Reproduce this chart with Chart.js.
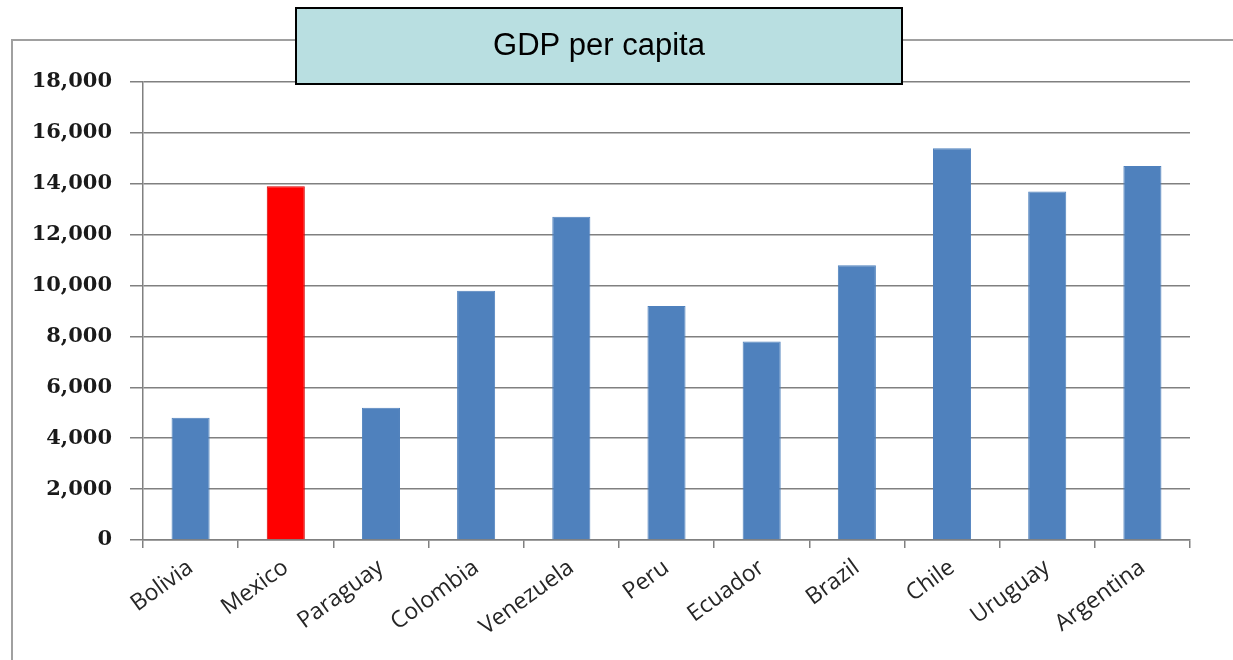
<!DOCTYPE html>
<html>
<head>
<meta charset="utf-8">
<script src="https://cdn.jsdelivr.net/npm/chart.js@4"></script>
<style>
    html, body { margin: 0; padding: 0; background: #fff; }
    #wrap { position: relative; width: 1233px; height: 660px; }
</style>
</head>
<body>
<div id="wrap"><canvas id="gdpChart" width="1233" height="660"></canvas></div>
<script>
const categories = ['Bolivia', 'Mexico', 'Paraguay', 'Colombia', 'Venezuela', 'Peru', 'Ecuador', 'Brazil', 'Chile', 'Uruguay', 'Argentina'];
const gdpValues = [4800, 13900, 5200, 9800, 12700, 9200, 7800, 10800, 15400, 13700, 14700];
const highlighted = 'Mexico';
const chartTitle = 'GDP per capita';
const yMin = 0, yMax = 18000, yStep = 2000;

const barColors = categories.map(c => c === highlighted ? '#ff0000' : '#4f81bd');
const barBorders = categories.map(c => c === highlighted ? '#d40000' : '#4f81bd');

// outer frame + title box (drawn on the canvas)
const decorPlugin = {
    id: 'decor',
    beforeDraw(chart) {
        const ctx = chart.ctx;
        ctx.save();
        ctx.strokeStyle = '#a0a0a0';
        ctx.lineWidth = 2;
        ctx.beginPath();
        ctx.moveTo(12, 660);
        ctx.lineTo(12, 40);
        ctx.lineTo(1233, 40);
        ctx.stroke();
        ctx.restore();
    },
    afterDraw(chart) {
        const ctx = chart.ctx;
        ctx.save();
        ctx.fillStyle = '#b9dfe1';
        ctx.fillRect(296, 8, 606, 76);
        ctx.strokeStyle = '#000';
        ctx.lineWidth = 2;
        ctx.strokeRect(296, 8, 606, 76);
        ctx.fillStyle = '#000';
        ctx.font = '31px "Liberation Sans", Arial, sans-serif';
        ctx.textAlign = 'center';
        ctx.textBaseline = 'middle';
        ctx.fillText(chartTitle, 599, 46);
        ctx.restore();
    }
};

new Chart(document.getElementById('gdpChart').getContext('2d'), {
    type: 'bar',
    data: {
        labels: categories,
        datasets: [{
            data: gdpValues,
            backgroundColor: barColors,
            borderColor: barBorders,
            borderWidth: 1,
            barPercentage: 0.4,
            categoryPercentage: 1
        }]
    },
    options: {
        responsive: false,
        animation: false,
        layout: { padding: { top: 82, right: 43, left: 0, bottom: 0 } },
        plugins: {
            legend: { display: false },
            title: { display: false },
            tooltip: { enabled: false }
        },
        scales: {
            x: {
                offset: true,
                grid: { offset: true, drawOnChartArea: false, drawTicks: true, tickLength: 8, color: '#808080', lineWidth: 1.5 },
                border: { display: true, color: '#808080', width: 1.5 },
                ticks: {
                    color: '#262626',
                    font: { family: '"Open Sans", sans-serif', size: 23 },
                    maxRotation: 36,
                    minRotation: 36,
                    padding: 6
                },
                afterFit(scale) { scale.height = 120; }
            },
            y: {
                min: yMin,
                max: yMax,
                ticks: {
                    stepSize: yStep,
                    color: '#1a1a1a',
                    padding: 18,
                    font: { family: '"DejaVu Serif", serif', size: 21, weight: 'bold' },
                    callback: v => v.toLocaleString('en-US')
                },
                grid: { color: '#808080', lineWidth: 1.5, tickLength: 13 },
                border: { display: true, color: '#808080', width: 1.5 },
                afterFit(scale) { scale.width = 143; }
            }
        }
    },
    plugins: [decorPlugin]
});
</script>
</body>
</html>
